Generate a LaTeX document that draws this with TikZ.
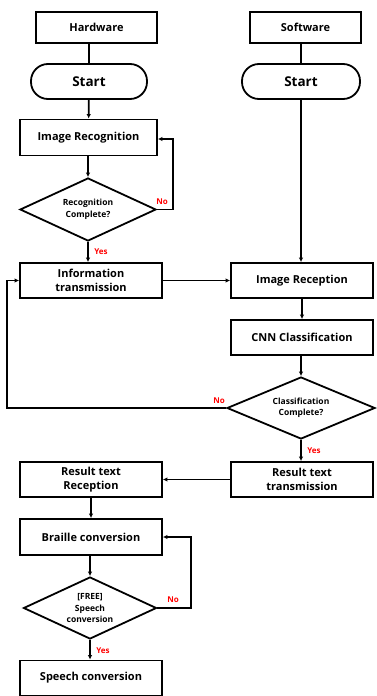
\documentclass[tikz,border=0pt]{standalone}
\usepackage{fontspec}
\setmainfont{Open Sans}
\usetikzlibrary{arrows.meta,shapes.geometric,positioning}

\begin{document}
\begin{tikzpicture}[x=1pt,y=-1pt,line width=1.8pt,>={Latex[length=4.5pt,width=4.5pt]}]
       \tikzstyle{box}=[draw,rectangle,inner sep=1pt,align=center,font=\bfseries\fontsize{11}{14}\selectfont]
       \tikzstyle{head}=[box,minimum height=31pt]
       \tikzstyle{term}=[box,rounded corners=17pt,minimum height=35pt,font=\bfseries\fontsize{13.5}{16}\selectfont]
       \tikzstyle{proc}=[box,minimum height=36pt]
       \tikzstyle{dec}=[draw,diamond,shape aspect=2.2,inner sep=0pt,align=center,font=\bfseries\fontsize{8.5}{11.5}\selectfont]
       \tikzstyle{lbl}=[text=red,inner sep=0pt,font=\bfseries\fontsize{8}{9}\selectfont]

       \useasboundingbox (0,0) rectangle (376,696);

       % hardware side
       \node[head,minimum width=121pt] (hw) at (96.5,27.5) {Hardware};
       \node[term,minimum width=116pt] (hwstart) at (89,81.5) {Start};
       \node[proc,minimum width=137pt] (recog) at (88.5,137.5) {Image Recognition};
       \node[dec,minimum width=136pt,minimum height=63pt] (rdone) at (88,209.5) {Recognition\\Complete?};
       \node[proc,minimum width=142pt,minimum height=35pt] (info) at (91,280.5) {Information\\transmission};

       % software side
       \node[head,minimum width=111pt] (sw) at (305.5,27.5) {Software};
       \node[term,minimum width=118pt] (swstart) at (301,81.5) {Start};
       \node[proc,minimum width=142pt,minimum height=35pt] (imgrx) at (302,280.5) {Image Reception};
       \node[proc,minimum width=142pt,minimum height=35pt] (cnn) at (302,337.5) {CNN Classification};
       \node[dec,minimum width=148pt,minimum height=62pt] (cdone) at (301,408) {Classification\\Complete?};
       \node[proc,minimum width=142pt,minimum height=35pt] (restx) at (302,479.5) {Result text\\transmission};

       % output side
       \node[proc,minimum width=142pt,minimum height=35pt] (resrx) at (91,479.5) {Result text\\Reception};
       \node[proc,minimum width=142pt,minimum height=36pt] (braille) at (91,537) {Braille conversion};
       \node[dec,minimum width=133pt,minimum height=62pt] (sdone) at (90,608) {[FREE]\\Speech\\conversion};
       \node[proc,minimum width=142pt,minimum height=35pt] (speech) at (91,678) {Speech conversion};

       % yes / no labels
       \node[lbl] (no1) at (162,202) {No};
       \node[lbl] (yes1) at (101,252) {Yes};
       \node[lbl] (no2) at (219,401) {No};
       \node[lbl] (yes2) at (314,451) {Yes};
       \node[lbl] (no3) at (173,600) {No};
       \node[lbl] (yes3) at (103,651) {Yes};

       \coordinate (k1) at (173,139);
       \coordinate (k2) at (7,408);
       \coordinate (k3) at (191,537);

       \draw (hwstart.north |- hw.south) -- (hwstart.north);
       \draw (swstart.north |- sw.south) -- (swstart.north);
       \path[->]
       (hwstart) edge (recog)
       (recog.south -| rdone.north) edge (rdone.north)
       (rdone.south) edge (rdone.south |- info.north)
       (swstart.south) edge (swstart.south |- imgrx.north)
       (info.east) edge (imgrx.west)
       (imgrx) edge (cnn)
       (cnn.south -| cdone.north) edge (cdone.north)
       (cdone.south) edge (cdone.south |- restx.north)
       (restx.west) edge (resrx.east)
       (resrx) edge (braille)
       (braille.south -| sdone.north) edge (sdone.north)
       (sdone.south) edge (sdone.south |- speech.north);

       \draw[->] (rdone.east) -| (k1) -- (recog.east |- k1);
       \draw[->] (cdone.west) -- (k2) |- (info.west);
       \draw[->] (sdone.east) -| (k3) -- (braille.east);

     \end{tikzpicture}
\end{document}
